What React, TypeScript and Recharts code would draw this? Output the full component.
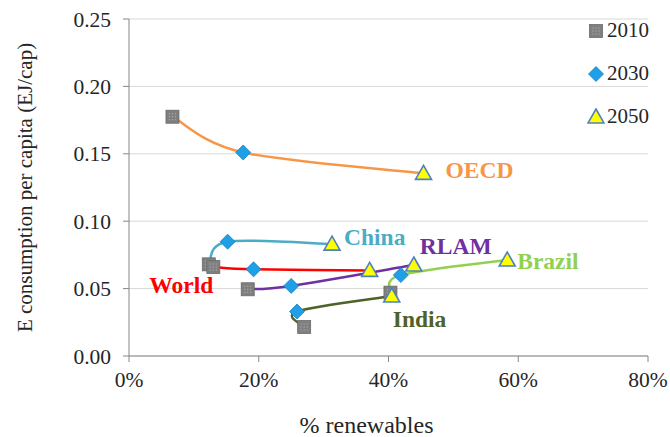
import React from 'react';
import {
  ComposedChart, Line, Scatter, XAxis, YAxis, CartesianGrid, Legend, LabelList,
} from 'recharts';

// regions in plot order
const REGIONS = ['OECD', 'China', 'World', 'RLAM', 'Brazil', 'India'];

// share of renewables (fraction) and energy per capita (EJ/cap) per year
const REN_2010 = [0.067, 0.123, 0.13, 0.183, 0.403, 0.27];
const CAP_2010 = [0.1775, 0.068, 0.066, 0.0495, 0.047, 0.0215];
const REN_2030 = [0.176, 0.152, 0.192, 0.25, 0.419, 0.259];
const CAP_2030 = [0.151, 0.0848, 0.0643, 0.052, 0.06, 0.033];
const REN_2050 = [0.454, 0.313, 0.371, 0.439, 0.583, 0.405];
const CAP_2050 = [0.1355, 0.083, 0.0635, 0.0675, 0.0712, 0.0445];

const X_TICKS = [0, 0.2, 0.4, 0.6, 0.8];
const Y_TICKS = [0, 0.05, 0.1, 0.15, 0.2, 0.25];

const LINE_COLORS: Record<string, string> = {
  OECD: '#f79646',
  China: '#4bacc6',
  World: '#ff0000',
  RLAM: '#7030a0',
  Brazil: '#92d050',
  India: '#4f6228',
};

// where each region name sits relative to one of its points
const LABEL_POS: Record<string, { idx: number; dx: number; dy: number; anchor: string }> = {
  OECD: { idx: 2, dx: 22, dy: -3, anchor: 'start' },
  China: { idx: 2, dx: 12, dy: -7, anchor: 'start' },
  World: { idx: 0, dx: 0, dy: 18, anchor: 'end' },
  RLAM: { idx: 2, dx: 6, dy: -19, anchor: 'start' },
  Brazil: { idx: 2, dx: 10, dy: 1, anchor: 'start' },
  India: { idx: 2, dx: 1, dy: 23, anchor: 'start' },
};

const FONT = '"Liberation Serif", "Times New Roman", serif';
const TEXT_COLOR = '#262626';

const toPoints = (xs: number[], ys: number[]) => xs.map((x, i) => ({ x, y: ys[i], region: REGIONS[i] }));
const regionLine = (i: number) => [
  { x: REN_2010[i], y: CAP_2010[i] },
  { x: REN_2030[i], y: CAP_2030[i] },
  { x: REN_2050[i], y: CAP_2050[i] },
];

// Excel-like smoothed line (Catmull-Rom turned into cubic beziers)
const smoothCurve: any = (context: any) => {
  let pts: number[][] = [];
  return {
    areaStart() {},
    areaEnd() {},
    lineStart() { pts = []; },
    point(x: number, y: number) { pts.push([+x, +y]); },
    lineEnd() {
      if (!pts.length) return;
      context.moveTo(pts[0][0], pts[0][1]);
      for (let i = 0; i < pts.length - 1; i++) {
        const p0 = pts[Math.max(i - 1, 0)];
        const p1 = pts[i];
        const p2 = pts[i + 1];
        const p3 = pts[Math.min(i + 2, pts.length - 1)];
        context.bezierCurveTo(
          p1[0] + (p2[0] - p0[0]) / 6, p1[1] + (p2[1] - p0[1]) / 6,
          p2[0] - (p3[0] - p1[0]) / 6, p2[1] - (p3[1] - p1[1]) / 6,
          p2[0], p2[1],
        );
      }
    },
  };
};

const SquareMark = ({ cx, cy }: any) => {
  if (cx == null || cy == null) return null;
  const s = 6.5;
  const dots = [-3, 0, 3];
  return (
    <g>
      <rect x={cx - s} y={cy - s} width={s * 2} height={s * 2} fill="#7f7f7f" stroke="#6b6b6b" strokeWidth={0.8} />
      {dots.map((a) => dots.map((b) => (
        <rect key={`${a}-${b}`} x={cx + a - 0.6} y={cy + b - 0.6} width={1.2} height={1.2} fill="#a8a8a8" />
      )))}
    </g>
  );
};

const DiamondMark = ({ cx, cy }: any) => {
  if (cx == null || cy == null) return null;
  const r = 7.5;
  return (
    <polygon
      points={`${cx},${cy - r} ${cx + r},${cy} ${cx},${cy + r} ${cx - r},${cy}`}
      fill="#1e9fe6"
      stroke="#1a80c4"
      strokeWidth={0.8}
    />
  );
};

const TriangleMark = ({ cx, cy }: any) => {
  if (cx == null || cy == null) return null;
  return (
    <polygon
      points={`${cx},${cy - 8} ${cx + 8},${cy + 6} ${cx - 8},${cy + 6}`}
      fill="#ffff00"
      stroke="#4f81bd"
      strokeWidth={1.6}
    />
  );
};

const LEGEND_ITEMS = [
  { name: '2010', Mark: SquareMark },
  { name: '2030', Mark: DiamondMark },
  { name: '2050', Mark: TriangleMark },
];

const YearLegend = () => (
  <div style={{ fontFamily: FONT, fontSize: 21, color: TEXT_COLOR }}>
    {LEGEND_ITEMS.map(({ name, Mark }) => (
      <div key={name} style={{ display: 'flex', alignItems: 'center', height: 43 }}>
        <svg width={18} height={18} style={{ marginRight: 2 }}>
          <Mark cx={9} cy={9} />
        </svg>
        <span>{name}</span>
      </div>
    ))}
  </div>
);

const XTick = ({ x, y, payload }: any) => (
  <text x={x} y={y + 21} textAnchor="middle" fill={TEXT_COLOR} fontFamily={FONT} fontSize={21.5}>
    {`${Math.round(payload.value * 100)}%`}
  </text>
);

const YTick = ({ x, y, payload }: any) => (
  <text x={x} y={y} dy={7.5} textAnchor="end" fill={TEXT_COLOR} fontFamily={FONT} fontSize={21.5}>
    {Number(payload.value).toFixed(2)}
  </text>
);

const XTitle = ({ viewBox }: any) => (
  <text
    x={viewBox.x + viewBox.width / 2 - 22}
    y={433}
    textAnchor="middle"
    fill={TEXT_COLOR}
    fontFamily={FONT}
    fontSize={24}
  >
    % renewables
  </text>
);

const regionLabel = (region: string) => (props: any) => {
  const { x, y, index } = props;
  const pos = LABEL_POS[region];
  if (index !== pos.idx || x == null || y == null) return null;
  return (
    <text
      x={x + pos.dx}
      y={y + pos.dy}
      textAnchor={pos.anchor}
      dominantBaseline="central"
      fill={LINE_COLORS[region]}
      fontFamily={FONT}
      fontWeight="bold"
      fontSize={23.5}
    >
      {region}
    </text>
  );
};

const App: React.FC = () => {
  return (
    <div style={{ width: 670, height: 437, background: '#fff' }}>
      <style>{'body{margin:0}'}</style>
      <ComposedChart width={670} height={437} margin={{ top: 19, right: 22, bottom: 0, left: 0 }}>
        <CartesianGrid vertical={false} stroke="#d9d9d9" />
        <XAxis
          type="number"
          dataKey="x"
          domain={[0, 0.8]}
          ticks={X_TICKS}
          height={81}
          tickSize={6}
          tickMargin={4}
          stroke="#868686"
          tick={<XTick />}
          label={<XTitle />}
        />
        <YAxis
          type="number"
          dataKey="y"
          domain={[0, 0.25]}
          ticks={Y_TICKS}
          width={129}
          tickSize={6}
          tickMargin={12}
          stroke="#868686"
          tick={<YTick />}
          label={{
            value: 'E consumption per capita (EJ/cap)',
            angle: -90,
            position: 'insideLeft',
            offset: 25,
            fill: TEXT_COLOR,
            fontSize: 21,
            fontFamily: FONT,
            style: { textAnchor: 'middle' },
          }}
        />
        <Legend
          verticalAlign="top"
          align="right"
          wrapperStyle={{ top: 9, left: 587, width: 80, height: 0, overflow: 'visible' }}
          content={() => <YearLegend />}
        />
        <Scatter name="2010" data={toPoints(REN_2010, CAP_2010)} shape={SquareMark} isAnimationActive={false} />
        <Scatter name="2030" data={toPoints(REN_2030, CAP_2030)} shape={DiamondMark} isAnimationActive={false} />
        <Scatter name="2050" data={toPoints(REN_2050, CAP_2050)} shape={TriangleMark} isAnimationActive={false} />
        {REGIONS.map((region, i) => (
          <Line
            key={region}
            data={regionLine(i)}
            dataKey="y"
            type={smoothCurve}
            stroke={LINE_COLORS[region]}
            strokeWidth={2.5}
            dot={false}
            activeDot={false}
            legendType="none"
            isAnimationActive={false}
          >
            <LabelList dataKey="y" content={regionLabel(region)} />
          </Line>
        ))}
      </ComposedChart>
    </div>
  );
};

export default App;
